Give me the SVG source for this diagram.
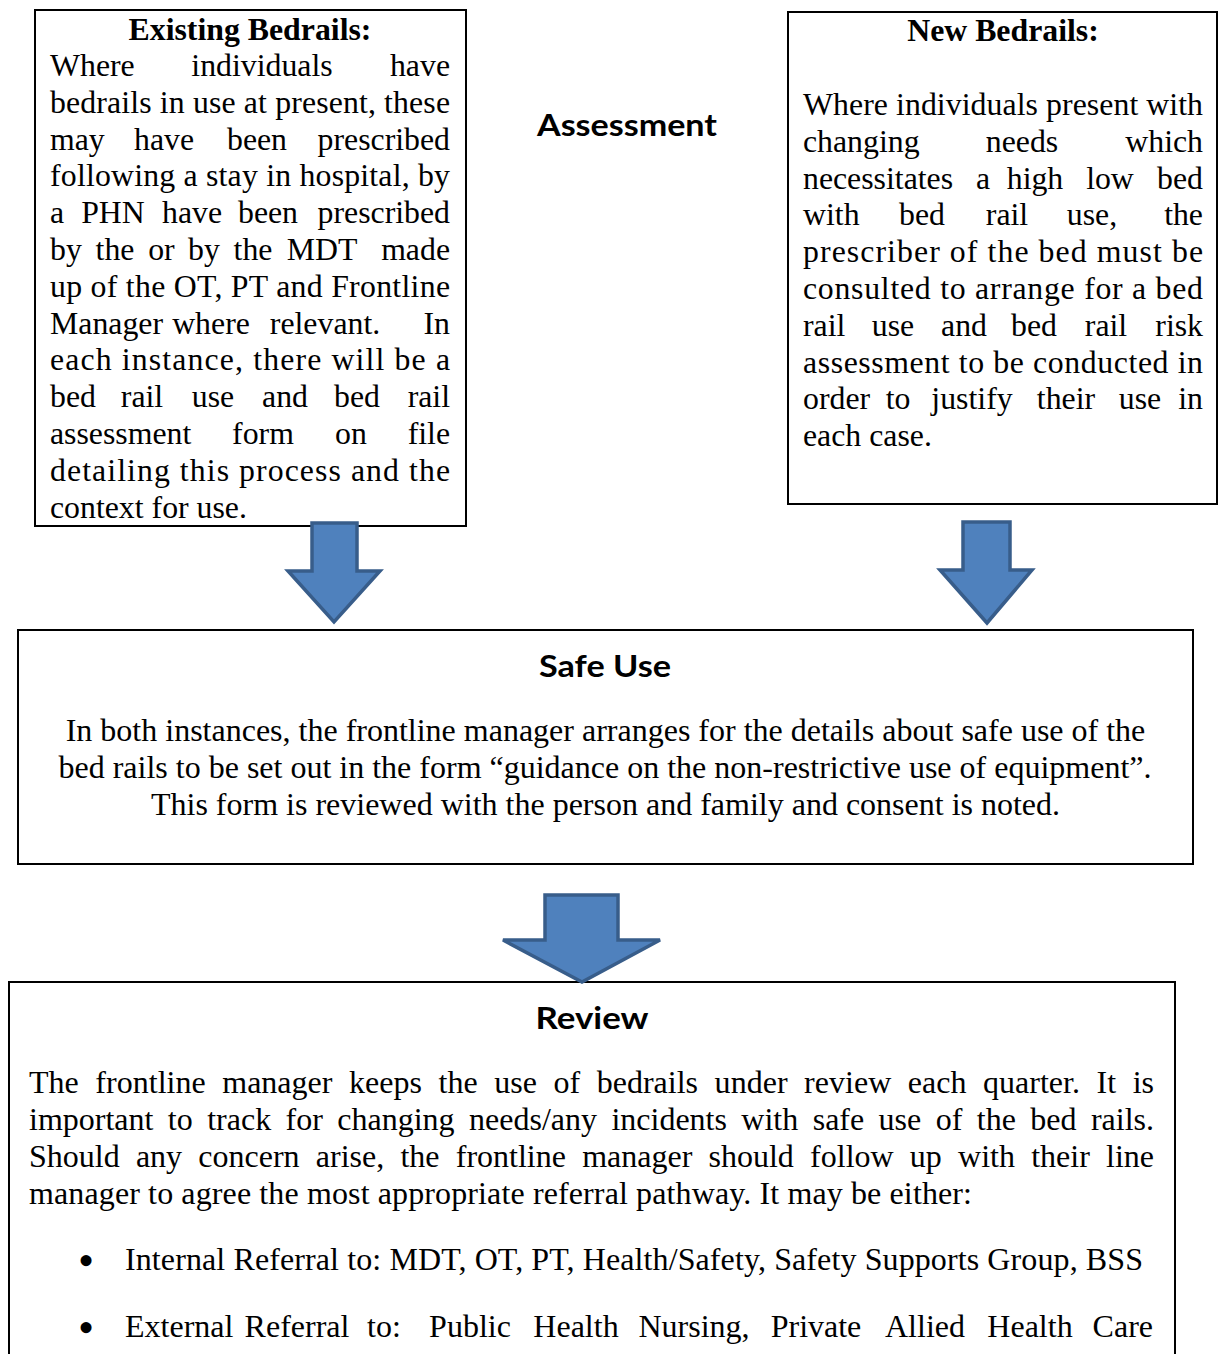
<svg xmlns="http://www.w3.org/2000/svg" width="1218" height="1354" viewBox="0 0 1218 1354">
<style>
.box{fill:#fff;stroke:#000;stroke-width:2}
.t{font-family:"Liberation Serif","Times New Roman",serif;font-size:31.8px;fill:#000}
.s{font-size:32px}
.tb{font-weight:bold}
.h{font-family:Lato,"Open Sans",sans-serif;font-weight:bold;font-size:31px;fill:#000}
.m{text-anchor:middle}
.e{text-anchor:end}
.bul{font-family:"Liberation Serif","Times New Roman",serif;font-size:46px;fill:#000;text-anchor:middle}
.arrow{fill:#4F81BD;stroke:#385D8A;stroke-width:3.5;stroke-linejoin:miter}
</style>
<rect width="1218" height="1354" fill="#fff"/>

<g id="existing-bedrails">
<rect class="box" x="35" y="10" width="431" height="516"/>
<text class="t tb m" x="250" y="40">Existing Bedrails:</text>
<text class="t" x="50" y="76">Where</text><text class="t m" x="262" y="76">individuals</text><text class="t e" x="450" y="76">have</text>
<text class="t" x="50" y="112.8" textLength="400" lengthAdjust="spacing">bedrails in use at present, these</text>
<text class="t" x="50" y="149.6">may</text><text class="t m" x="164" y="149.6">have</text><text class="t m" x="257" y="149.6">been</text><text class="t e" x="450" y="149.6">prescribed</text>
<text class="t" x="50" y="186.4" textLength="400" lengthAdjust="spacing">following a stay in hospital, by</text>
<text class="t" x="50" y="223.2">a</text><text class="t m" x="113" y="223.2">PHN</text><text class="t m" x="192" y="223.2">have</text><text class="t m" x="268" y="223.2">been</text><text class="t e" x="450" y="223.2">prescribed</text>
<text class="t" x="50" y="260">by</text><text class="t m" x="115" y="260">the</text><text class="t m" x="161.4" y="260">or</text><text class="t m" x="204" y="260">by</text><text class="t m" x="253" y="260">the</text><text class="t m" x="322" y="260">MDT</text><text class="t e" x="450" y="260">made</text>
<text class="t" x="50" y="296.8" textLength="400" lengthAdjust="spacing">up of the OT, PT and Frontline</text>
<text class="t" x="50" y="333.6">Manager</text><text class="t m" x="211" y="333.6">where</text><text class="t m" x="325" y="333.6">relevant.</text><text class="t e" x="450" y="333.6">In</text>
<text class="t" x="50" y="370.4" textLength="400" lengthAdjust="spacing">each instance, there will be a</text>
<text class="t" x="50" y="407.2">bed</text><text class="t m" x="142" y="407.2">rail</text><text class="t m" x="213" y="407.2">use</text><text class="t m" x="285" y="407.2">and</text><text class="t m" x="357" y="407.2">bed</text><text class="t e" x="450" y="407.2">rail</text>
<text class="t" x="50" y="444">assessment</text><text class="t m" x="263" y="444">form</text><text class="t m" x="351" y="444">on</text><text class="t e" x="450" y="444">file</text>
<text class="t" x="50" y="480.8" textLength="400" lengthAdjust="spacing">detailing this process and the</text>
<text class="t" x="50" y="517.6">context for use.</text>
</g>

<g id="assessment-label">
<text class="h m" x="627" y="135.5" textLength="180" lengthAdjust="spacingAndGlyphs">Assessment</text>
</g>

<g id="new-bedrails">
<rect class="box" x="788" y="12" width="429" height="492"/>
<text class="t tb m" x="1003" y="41">New Bedrails:</text>
<text class="t" x="803" y="115" textLength="400" lengthAdjust="spacing">Where individuals present with</text>
<text class="t" x="803" y="151.8">changing</text><text class="t m" x="1022" y="151.8">needs</text><text class="t e" x="1203" y="151.8">which</text>
<text class="t" x="803" y="188.6">necessitates</text><text class="t m" x="983" y="188.6">a</text><text class="t m" x="1035" y="188.6">high</text><text class="t m" x="1110" y="188.6">low</text><text class="t e" x="1203" y="188.6">bed</text>
<text class="t" x="803" y="225.4">with</text><text class="t m" x="922" y="225.4">bed</text><text class="t m" x="1007" y="225.4">rail</text><text class="t m" x="1092" y="225.4">use,</text><text class="t e" x="1203" y="225.4">the</text>
<text class="t" x="803" y="262.2" textLength="400" lengthAdjust="spacing">prescriber of the bed must be</text>
<text class="t" x="803" y="299" textLength="400" lengthAdjust="spacing">consulted to arrange for a bed</text>
<text class="t" x="803" y="335.8">rail</text><text class="t m" x="893" y="335.8">use</text><text class="t m" x="964" y="335.8">and</text><text class="t m" x="1034" y="335.8">bed</text><text class="t m" x="1106" y="335.8">rail</text><text class="t e" x="1203" y="335.8">risk</text>
<text class="t" x="803" y="372.6" textLength="400" lengthAdjust="spacing">assessment to be conducted in</text>
<text class="t" x="803" y="409.4">order</text><text class="t m" x="898" y="409.4">to</text><text class="t m" x="972" y="409.4">justify</text><text class="t m" x="1066" y="409.4">their</text><text class="t m" x="1140" y="409.4">use</text><text class="t e" x="1203" y="409.4">in</text>
<text class="t" x="803" y="446.2">each case.</text>
</g>

<g id="safe-use">
<rect class="box" x="18" y="630" width="1175" height="234"/>
<text class="h m" x="605" y="677" textLength="132" lengthAdjust="spacingAndGlyphs">Safe Use</text>
<text class="t s m" x="605.5" y="741">In both instances, the frontline manager arranges for the details about safe use of the</text>
<text class="t s m" x="605" y="778">bed rails to be set out in the form “guidance on the non-restrictive use of equipment”.</text>
<text class="t s m" x="605.5" y="815">This form is reviewed with the person and family and consent is noted.</text>
</g>

<g id="review">
<rect class="box" x="9" y="982" width="1166" height="400"/>
<text class="h m" x="592" y="1029" textLength="113" lengthAdjust="spacingAndGlyphs">Review</text>
<text class="t s" x="29" y="1093" word-spacing="8.5" textLength="1125" lengthAdjust="spacing">The frontline manager keeps the use of bedrails under review each quarter. It is</text>
<text class="t s" x="29" y="1130" word-spacing="6.4" textLength="1125" lengthAdjust="spacing">important to track for changing needs/any incidents with safe use of the bed rails.</text>
<text class="t s" x="29" y="1167" word-spacing="8.2" textLength="1125" lengthAdjust="spacing">Should any concern arise, the frontline manager should follow up with their line</text>
<text class="t s" x="29" y="1204" textLength="943" lengthAdjust="spacing">manager to agree the most appropriate referral pathway.  It may be either:</text>
<text class="bul" x="86" y="1276">•</text>
<text class="t s" x="125" y="1270" textLength="1018" lengthAdjust="spacing">Internal Referral to: MDT, OT, PT, Health/Safety, Safety Supports Group, BSS</text>
<text class="bul" x="86" y="1343">•</text>
<text class="t s" x="125" y="1337">External</text><text class="t s m" x="297" y="1337">Referral</text><text class="t s m" x="384" y="1337">to:</text><text class="t s m" x="470" y="1337">Public</text><text class="t s m" x="576" y="1337">Health</text><text class="t s m" x="694" y="1337">Nursing,</text><text class="t s m" x="816" y="1337">Private</text><text class="t s m" x="925" y="1337">Allied</text><text class="t s m" x="1030" y="1337">Health</text><text class="t s e" x="1153" y="1337">Care</text>
</g>

<g id="connectors">
<path class="arrow" d="M312,523 L357,523 L357,571 L380,571 L334,622 L288,571 L312,571 Z"/>
<path class="arrow" d="M963,522 L1010,522 L1010,570 L1032,570 L987,623 L940,570 L963,570 Z"/>
<path class="arrow" d="M545,895 L618,895 L618,940 L660,940 L582,982 L503,940 L545,940 Z"/>
</g>
</svg>
